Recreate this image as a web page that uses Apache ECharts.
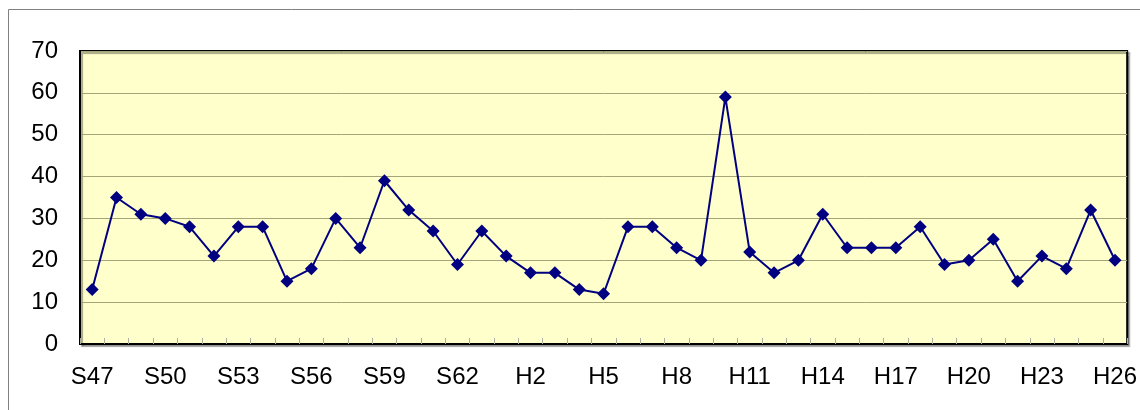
<!DOCTYPE html>
<html><head><meta charset="utf-8">
<script src="https://cdn.jsdelivr.net/npm/echarts@6/dist/echarts.min.js"></script>
<style>html,body{margin:0;padding:0;background:#fff;}#c{width:1140px;height:410px;}</style>
</head><body><div id="c"></div>
<script>
var categories = ['S47','S48','S49','S50','S51','S52','S53','S54','S55','S56','S57','S58','S59','S60','S61','S62','S63',
  'H1','H2','H3','H4','H5','H6','H7','H8','H9','H10','H11','H12','H13','H14','H15','H16','H17','H18','H19','H20','H21','H22','H23','H24','H25','H26'];
var values = [13,35,31,30,28,21,28,28,15,18,30,23,39,32,27,19,27,
  21,17,17,13,12,28,28,23,20,59,22,17,20,31,23,23,23,28,19,20,25,15,21,18,32,20];
var yTicks = [0,10,20,30,40,50,60,70];

var chart = echarts.init(document.getElementById('c'), null, {renderer:'canvas'});
chart.setOption({
  animation:false,
  graphic:[{type:'rect', shape:{x:8.5,y:9.5,width:1300,height:600}, style:{fill:'none', stroke:'#808080', lineWidth:1}, z:-10}],
  grid:{left:80, top:51, width:1048, height:293, show:true, backgroundColor:'#FFFFCC', borderColor:'#000', borderWidth:2,
        shadowColor:'rgba(0,0,0,0.35)', shadowOffsetX:2, shadowOffsetY:2, shadowBlur:1},
  xAxis:{type:'category', data:categories, boundaryGap:true,
    axisLine:{show:true, lineStyle:{color:'#000', width:2}},
    axisTick:{show:true, inside:true, length:6, interval:0, lineStyle:{color:'#b0b0a0', width:1}},
    axisLabel:{interval:2, color:'#000', fontSize:24, fontFamily:'Liberation Sans', margin:21},
    splitLine:{show:false}},
  yAxis:{type:'value', min:yTicks[0], max:yTicks[yTicks.length-1], interval:10,
    axisLine:{show:true, lineStyle:{color:'#000', width:2}},
    axisTick:{show:false},
    axisLabel:{color:'#000', fontSize:24, fontFamily:'Liberation Sans', margin:22},
    splitLine:{show:true, lineStyle:{color:'#a5a57a', width:1}}},
  series:[{type:'line', data:values, symbol:'diamond', symbolSize:13, showAllSymbol:true,
    lineStyle:{color:'#000080', width:2}, itemStyle:{color:'#000080'}}]
});
</script></body></html>
